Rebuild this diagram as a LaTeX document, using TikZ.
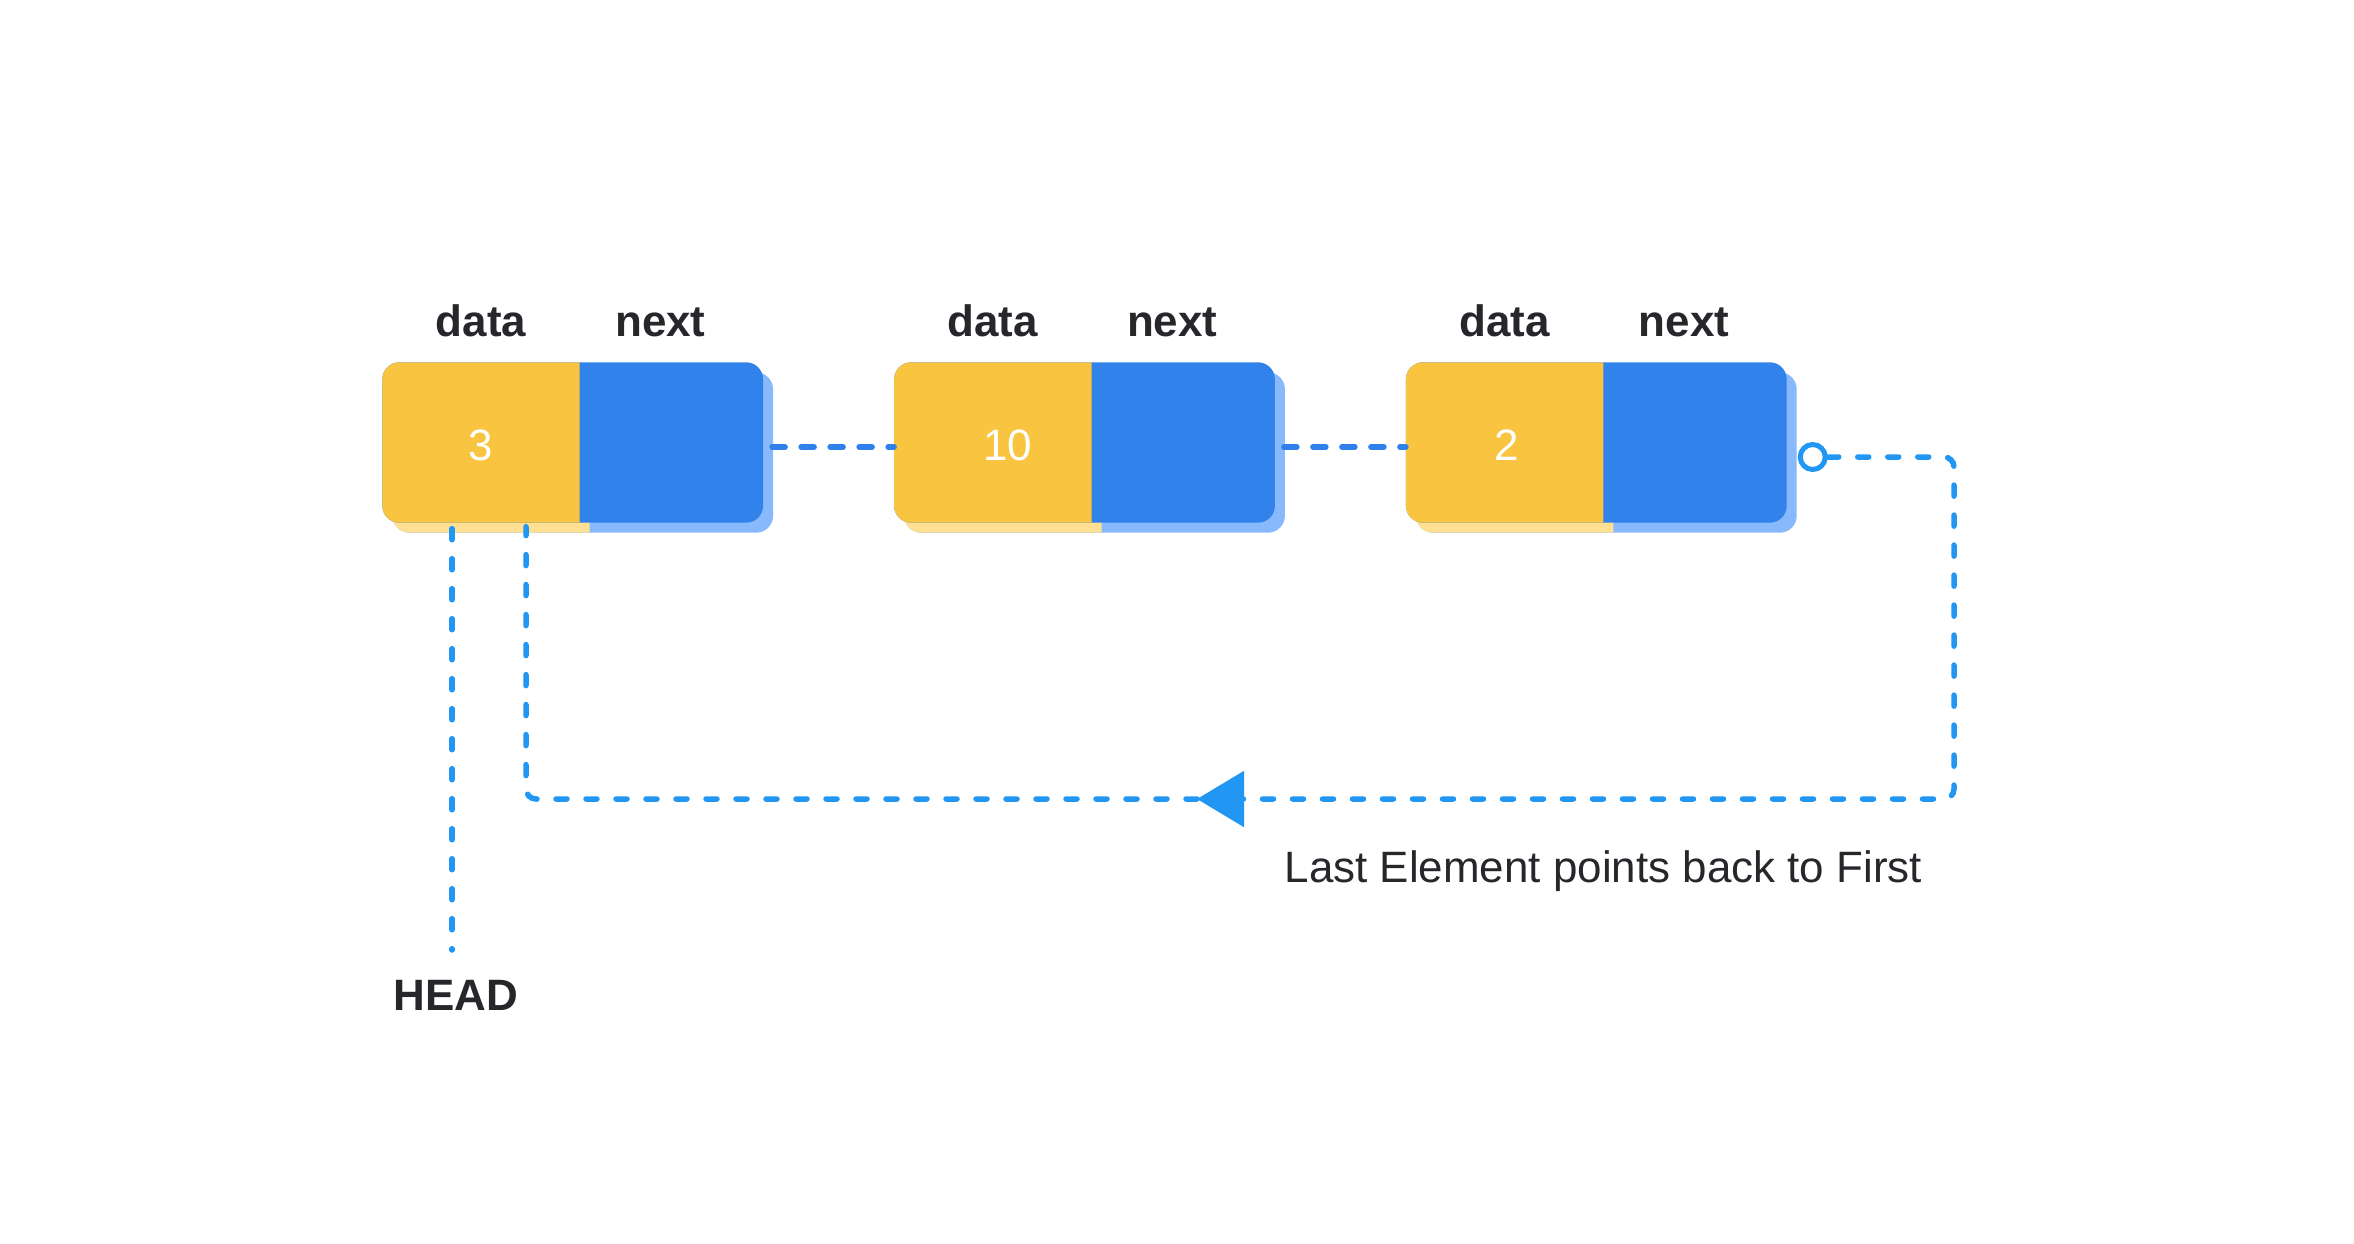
\documentclass[tikz,border=0pt]{standalone}
\usepackage{fontspec}
\setmainfont{Liberation Sans}
\usepackage{xcolor}
\usetikzlibrary{arrows.meta,positioning,backgrounds}
\definecolor{cellyellow}{HTML}{F9C440}
\definecolor{cellblue}{HTML}{3182EB}
\definecolor{shadeyellow}{HTML}{FFE092}
\definecolor{shadeblue}{HTML}{87B9FC}
\definecolor{linkblue}{HTML}{2F80ED}
\definecolor{loopblue}{HTML}{2196F3}
\definecolor{ink}{HTML}{25272B}
\newcommand{\figfont}{\fontsize{12.5pt}{15pt}\selectfont}
\tikzset{
  datacell/.style={
    rectangle, minimum width=1.96cm, minimum height=1.59cm,
    inner sep=0pt
  },
  nextcell/.style={
    rectangle, minimum width=1.82cm, minimum height=1.59cm,
    inner sep=0pt
  },
  valuenode/.style={
    font=\figfont, text=white, anchor=base, inner sep=0pt
  },
  fieldlabel/.style={
    font=\figfont\bfseries, text=ink, anchor=base, inner sep=0pt
  },
  notelabel/.style={
    font=\figfont, text=ink, inner sep=0pt
  },
  linkline/.style={
    line width=0.055cm, line cap=round, color=linkblue,
    dash pattern=on 0.13cm off 0.16cm
  },
  loopline/.style={
    line width=0.055cm, line cap=round, color=loopblue,
    dash pattern=on 0.11cm off 0.19cm, rounded corners=0.1cm
  },
  ringnode/.style={
    circle, draw=loopblue, line width=0.05cm,
    minimum size=0.25cm, inner sep=0pt
  },
}

\begin{document}
\begin{tikzpicture}
  \useasboundingbox (0,0) rectangle (23.54,-12.44);
  % Cells
  \node[datacell] (d1) at (4.81,-4.425) {};
  \node[nextcell, right=0pt of d1] (n1) {};
  \node[datacell, right=1.31cm of n1] (d2) {};
  \node[nextcell, right=0pt of d2] (n2) {};
  \node[datacell, right=1.31cm of n2] (d3) {};
  \node[nextcell, right=0pt of d3] (n3) {};
  % Values
  \node[valuenode] (v1) at ([yshift=-0.175cm]d1.center) {3};
  \node[valuenode] (v2) at ([xshift=0.15cm, yshift=-0.175cm]d2.center) {10};
  \node[valuenode] (v3) at ([xshift=0.02cm, yshift=-0.175cm]d3.center) {2};
  % Field labels
  \node[fieldlabel] (dl1) at ([yshift=0.26cm]d1.north) {data};
  \node[fieldlabel] (nl1) at ([xshift=-0.11cm, yshift=0.26cm]n1.north) {next};
  \node[fieldlabel] (dl2) at ([yshift=0.26cm]d2.north) {data};
  \node[fieldlabel] (nl2) at ([xshift=-0.11cm, yshift=0.26cm]n2.north) {next};
  \node[fieldlabel] (dl3) at ([yshift=0.26cm]d3.north) {data};
  \node[fieldlabel] (nl3) at ([xshift=-0.11cm, yshift=0.26cm]n3.north) {next};
  % Cell fills, shadow first
  \begin{scope}[on background layer]
    \foreach \i in {1,2,3} {
      \fill[shadeblue, rounded corners=0.17cm] ([shift={(0.1,-0.1)}]d\i.south west) rectangle ([shift={(0.1,-0.1)}]n\i.north east);
      \begin{scope}
        \clip ([shift={(0.1,-0.1)}]d\i.south west) rectangle ([shift={(0.1,-0.1)}]d\i.north east);
        \fill[shadeyellow, rounded corners=0.17cm] ([shift={(0.1,-0.1)}]d\i.south west) rectangle ([shift={(0.1,-0.1)}]n\i.north east);
      \end{scope}
      \fill[cellblue, rounded corners=0.17cm] (d\i.south west) rectangle (n\i.north east);
      \begin{scope}
        \clip (d\i.south west) rectangle (d\i.north east);
        \fill[cellyellow, rounded corners=0.17cm] (d\i.south west) rectangle (n\i.north east);
      \end{scope}
    }
  \end{scope}
  % Links
  \draw[linkline] ([xshift=0.09cm, yshift=-0.045cm]n1.east) -- ([yshift=-0.045cm]d2.west);
  \draw[linkline] ([xshift=0.09cm, yshift=-0.045cm]n2.east) -- ([yshift=-0.045cm]d3.west);
  % Back link
  \node[ringnode] (ring) at ([xshift=0.26cm, yshift=-0.145cm]n3.east) {};
  \coordinate (loopcorner) at (19.54,-7.99);
  \coordinate (backtip) at (11.97,-7.99);
  \draw[loopline, -{Triangle[length=0.47cm, width=0.55cm]}] (ring.east) -| (loopcorner) -- (backtip);
  \draw[loopline] (backtip) -| ([xshift=0.45cm, yshift=-0.04cm]d1.south);
  \node[notelabel, anchor=base west] (note) at (12.84,-8.82) {Last Element points back to First};
  % Head
  \node[fieldlabel] (head) at (4.56,-10.10) {HEAD};
  \draw[loopline] ([xshift=-0.29cm, yshift=-0.06cm]d1.south) -- ([xshift=-0.04cm, yshift=0.6cm]head.base);
\end{tikzpicture}
\end{document}
